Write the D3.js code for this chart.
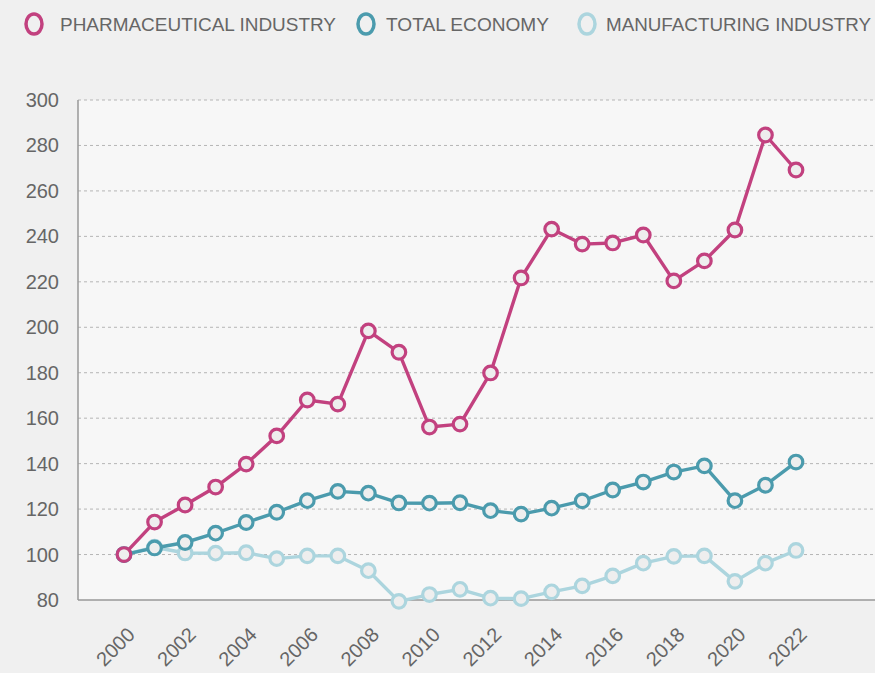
<!DOCTYPE html>
<html>
<head>
<meta charset="utf-8">
<script src="https://cdn.jsdelivr.net/npm/d3@7"></script>
<style>
  html, body { margin: 0; padding: 0; background: #f0f0f0; }
  svg { display: block; font-family: "Liberation Sans", Arial, sans-serif; }
</style>
</head>
<body>
<svg id="chart" width="875" height="673"></svg>
<script>
const years = d3.range(2000, 2023);
const yTicks = [80, 100, 120, 140, 160, 180, 200, 220, 240, 260, 280, 300];
const xTicks = [2000, 2002, 2004, 2006, 2008, 2010, 2012, 2014, 2016, 2018, 2020, 2022];

const pharma = [100, 114.3, 121.8, 129.7, 139.8, 152.2, 168, 166.2, 198.4, 189, 156.1, 157.4,
  179.9, 221.7, 243.2, 236.6, 237.1, 240.6, 220.4, 229.2, 242.8, 284.6, 269.2];
const totalEconomy = [100, 102.9, 105.3, 109.4, 114.1, 118.6, 123.7, 127.8, 127, 122.7, 122.6, 122.8,
  119.3, 117.8, 120.4, 123.6, 128.4, 131.9, 136.3, 139, 123.7, 130.5, 140.7];
const manufacturing = [100, 103.2, 100.7, 100.6, 100.8, 98.2, 99.4, 99.4, 92.9, 79.4, 82.4, 84.7,
  80.8, 80.6, 83.6, 86.2, 90.6, 96.2, 99.2, 99.4, 88.2, 96.2, 101.8];

const series = [
  {name: "MANUFACTURING INDUSTRY", values: manufacturing, color: "#acd5de"},
  {name: "TOTAL ECONOMY", values: totalEconomy, color: "#4b9bad"},
  {name: "PHARMACEUTICAL INDUSTRY", values: pharma, color: "#c2417f"}
];

const svg = d3.select("#chart");
const plot = {left: 78, right: 875, top: 100, bottom: 600};

const x = d3.scaleLinear().domain([2000, 2022]).range([124, 796]);
const y = d3.scaleLinear().domain([80, 300]).range([plot.bottom, plot.top]);

// plot background
svg.append("rect")
  .attr("x", plot.left).attr("y", plot.top)
  .attr("width", plot.right - plot.left).attr("height", plot.bottom - plot.top)
  .attr("fill", "#f7f7f7");

// gridlines
svg.append("g")
  .selectAll("line")
  .data(yTicks.filter(d => d > 80))
  .join("line")
  .attr("x1", plot.left).attr("x2", plot.right)
  .attr("y1", d => y(d)).attr("y2", d => y(d))
  .attr("stroke", "#b5b5b5")
  .attr("stroke-width", 1)
  .attr("stroke-dasharray", "3,3");

// y labels
svg.append("g")
  .selectAll("text")
  .data(yTicks)
  .join("text")
  .attr("x", 59)
  .attr("y", d => y(d) + 7)
  .attr("text-anchor", "end")
  .attr("font-size", 20)
  .attr("fill", "#666")
  .text(d => d);

// x labels
svg.append("g")
  .selectAll("text")
  .data(xTicks)
  .join("text")
  .attr("transform", d => "translate(" + (x(d) + 12) + ",636) rotate(-45)")
  .attr("text-anchor", "end")
  .attr("font-size", 20)
  .attr("fill", "#666")
  .text(d => d);

// axis lines
svg.append("line")
  .attr("x1", plot.left).attr("x2", plot.left)
  .attr("y1", plot.top).attr("y2", plot.bottom)
  .attr("stroke", "#999").attr("stroke-width", 1.5);
svg.append("line")
  .attr("x1", plot.left).attr("x2", plot.right)
  .attr("y1", plot.bottom).attr("y2", plot.bottom)
  .attr("stroke", "#999").attr("stroke-width", 1.5);

const line = d3.line()
  .x((d, i) => x(years[i]))
  .y(d => y(d));

series.forEach(s => {
  const g = svg.append("g");
  g.append("path")
    .datum(s.values)
    .attr("fill", "none")
    .attr("stroke", s.color)
    .attr("stroke-width", 3.4)
    .attr("stroke-linejoin", "round")
    .attr("d", line);
  g.selectAll("circle")
    .data(s.values)
    .join("circle")
    .attr("cx", (d, i) => x(years[i]))
    .attr("cy", d => y(d))
    .attr("r", 6.8)
    .attr("fill", "#eeeeee")
    .attr("stroke", s.color)
    .attr("stroke-width", 3.2);
});

// legend
const legend = [
  {name: "PHARMACEUTICAL INDUSTRY", color: "#c2417f", cx: 34, tx: 60, w: 276},
  {name: "TOTAL ECONOMY", color: "#4b9bad", cx: 366, tx: 386, w: 163},
  {name: "MANUFACTURING INDUSTRY", color: "#acd5de", cx: 587, tx: 606, w: 265}
];
const lg = svg.append("g");
lg.selectAll("ellipse")
  .data(legend)
  .join("ellipse")
  .attr("cx", d => d.cx).attr("cy", 24)
  .attr("rx", 8).attr("ry", 10)
  .attr("fill", "none")
  .attr("stroke", d => d.color)
  .attr("stroke-width", 3.5);
lg.selectAll("text")
  .data(legend)
  .join("text")
  .attr("x", d => d.tx).attr("y", 31)
  .attr("font-size", 18)
  .attr("fill", "#666")
  .attr("textLength", d => d.w)
  .attr("lengthAdjust", "spacingAndGlyphs")
  .text(d => d.name);
</script>
</body>
</html>
